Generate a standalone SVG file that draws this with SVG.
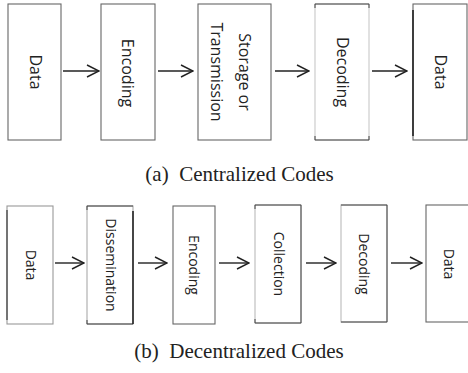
<svg xmlns="http://www.w3.org/2000/svg" width="468" height="373" viewBox="0 0 468 373">
<defs>
<style>
.box{fill:#fff;stroke:#666;stroke-width:1.1}
.dk{stroke:#222;stroke-width:1.6}
.t1{font-family:"Open Sans","DejaVu Sans",sans-serif;font-size:16px;fill:#222;text-anchor:middle}
.t2{font-family:"Open Sans","DejaVu Sans",sans-serif;font-size:14px;fill:#222;text-anchor:middle}
.cap{font-family:"Liberation Serif","Times New Roman",serif;font-size:21px;fill:#222;text-anchor:middle;white-space:pre}
.arr{stroke:#222;stroke-width:1.4;fill:none}
</style>
<marker id="ah" viewBox="0 0 14 14" refX="13" refY="7" markerWidth="14" markerHeight="14" markerUnits="userSpaceOnUse" orient="auto">
<path d="M1,1 L13,7 L1,13" fill="none" stroke="#222" stroke-width="1.4"/>
</marker>
</defs>
<rect width="468" height="373" fill="#fff"/>
<g id="a-data1"><rect class="box" x="8" y="4" width="53" height="136"/><text class="t1" transform="translate(30,72) rotate(90)">Data</text></g>
<g id="a-encoding"><rect class="box" x="101" y="4" width="54" height="136"/><text class="t1" transform="translate(122,73) rotate(90)">Encoding</text></g>
<g id="a-storage"><rect class="box" x="198" y="4" width="73" height="136"/><text class="t1" transform="translate(239,72) rotate(90)">Storage or</text><text class="t1" transform="translate(211,72) rotate(90)">Transmission</text></g>
<g id="a-decoding"><rect class="box" x="315" y="4" width="54" height="136" style="stroke:#c8c8c8"/><path d="M315,8 V4 H369 V8 M315,136 V140 H369 V136" fill="none" stroke="#444" stroke-width="1"/><text class="t1" transform="translate(337,72) rotate(90)">Decoding</text></g>
<g id="a-data2"><rect class="box" x="413" y="4" width="54" height="136"/><line class="dk" x1="413" y1="10" x2="413" y2="136"/><text class="t1" transform="translate(435,72) rotate(90)">Data</text></g>
<g id="b-data1"><rect class="box" x="7" y="206" width="46" height="118" style="stroke:#999"/><line x1="7" y1="210" x2="7" y2="320" stroke="#222" stroke-width="1"/><text class="t2" transform="translate(26,265) rotate(90)">Data</text></g>
<g id="b-dissemination"><rect class="box" x="87" y="206" width="46" height="118" style="stroke:#aaa"/><path d="M87,210 V206 H133 M87,320 V324 H133" fill="none" stroke="#444" stroke-width="1"/><line class="dk" x1="133" y1="211" x2="133" y2="324"/><text class="t2" transform="translate(106,265) rotate(90)">Dissemination</text></g>
<g id="b-encoding"><rect class="box" x="173" y="206" width="42" height="118"/><text class="t2" transform="translate(189,265) rotate(90)">Encoding</text></g>
<g id="b-collection"><rect class="box" x="255" y="205" width="46" height="118" style="stroke:#bbb"/><path d="M255,209 V205 H301 V323 H255 V319" fill="none" stroke="#444" stroke-width="1"/><text class="t2" transform="translate(274,264) rotate(90)">Collection</text></g>
<g id="b-decoding"><rect class="box" x="341" y="205" width="46" height="117" style="stroke:#bbb"/><path d="M341,205 H387 V322 H341" fill="none" stroke="#444" stroke-width="1"/><text class="t2" transform="translate(359,264) rotate(90)">Decoding</text></g>
<g id="b-data2"><rect class="box" x="426" y="205" width="46" height="117"/><text class="t2" transform="translate(444,264) rotate(90)">Data</text></g>
<g id="connectors">
<line class="arr" x1="63" y1="71" x2="99" y2="71" marker-end="url(#ah)"/>
<line class="arr" x1="158" y1="71" x2="193" y2="71" marker-end="url(#ah)"/>
<line class="arr" x1="275" y1="71" x2="309" y2="71" marker-end="url(#ah)"/>
<line class="arr" x1="372" y1="71" x2="407" y2="71" marker-end="url(#ah)"/>
<line class="arr" x1="55" y1="263" x2="84" y2="263" marker-end="url(#ah)"/>
<line class="arr" x1="138" y1="263" x2="167" y2="263" marker-end="url(#ah)"/>
<line class="arr" x1="219" y1="263" x2="249" y2="263" marker-end="url(#ah)"/>
<line class="arr" x1="306" y1="263" x2="336" y2="263" marker-end="url(#ah)"/>
<line class="arr" x1="391" y1="263" x2="422" y2="263" marker-end="url(#ah)"/>
</g>
<text class="cap" x="239.5" y="181" xml:space="preserve">(a)  Centralized Codes</text>
<text class="cap" x="239" y="358" xml:space="preserve">(b)  Decentralized Codes</text>
</svg>
